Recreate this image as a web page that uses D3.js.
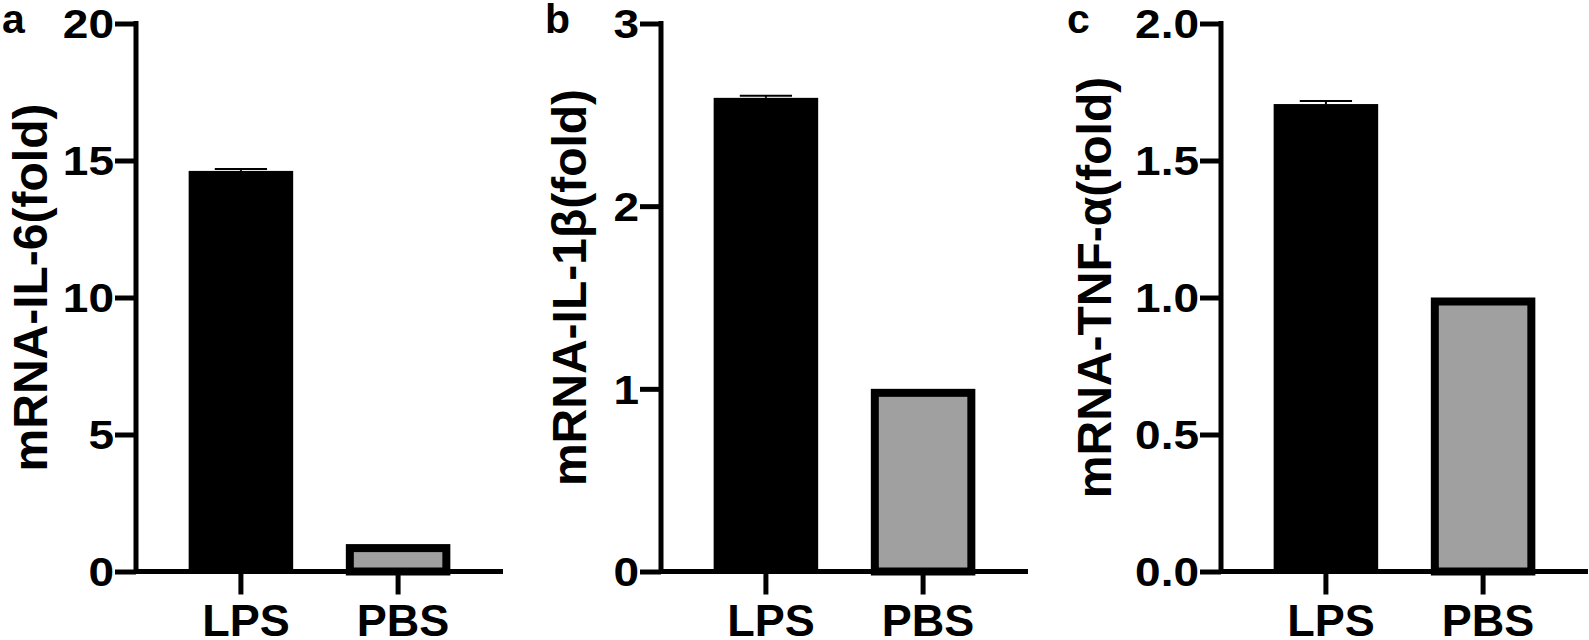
<!DOCTYPE html>
<html lang="en">
<head>
  <meta charset="UTF-8">
  <title>mRNA fold change</title>
  <script src="https://d3js.org/d3.v7.min.js"></script>
  <style>
    body {
      margin: 0;
      background: white;
      font-family: "Liberation Sans", Arial, sans-serif;
    }
    svg text {
      font-weight: bold;
      fill: black;
    }
  </style>
</head>
<body>
  <svg id="chart"></svg>
  <script>
    const width = 1589;
    const height = 640;

    // data
    const categories = ["LPS", "PBS"];

    const il6Values = [14.62, 1.0];
    const il6Errors = [0.07, 0];
    const il6Ticks = [0, 5, 10, 15, 20];

    const il1bValues = [2.593, 1.0];
    const il1bErrors = [0.012, 0];
    const il1bTicks = [0, 1, 2, 3];

    const tnfValues = [1.706, 1.0];
    const tnfErrors = [0.011, 0];
    const tnfTicks = [0, 0.5, 1.0, 1.5, 2.0];

    const barColors = ["#000000", "#a0a0a0"];

    const panels = [
      { letter: "a", label: "mRNA-IL-6(fold)", values: il6Values, errors: il6Errors,
        ticks: il6Ticks, fmt: d3.format("d"), axisX: 136, letterX: 2, labelX: 30 },
      { letter: "b", label: "mRNA-IL-1β(fold)", values: il1bValues, errors: il1bErrors,
        ticks: il1bTicks, fmt: d3.format("d"), axisX: 661, letterX: 545, labelX: 569 },
      { letter: "c", label: "mRNA-TNF-α(fold)", values: tnfValues, errors: tnfErrors,
        ticks: tnfTicks, fmt: d3.format(".1f"), axisX: 1221, letterX: 1067, labelX: 1094 }
    ];

    const plotTop = 23.5, zeroY = 571.5, axisLen = 367;
    const tickLen = 21, lineW = 5, border = 8;

    const svg = d3.select("#chart")
      .attr("width", width)
      .attr("height", height);

    panels.forEach(p => {
      const g = svg.append("g");
      const data = categories.map((c, i) => ({ cat: c, value: p.values[i], err: p.errors[i], color: barColors[i] }));

      const x = d3.scaleBand().domain(categories)
        .range([p.axisX, p.axisX + axisLen]).padding(0.335);
      const y = d3.scaleLinear().domain([0, d3.max(p.ticks)]).range([zeroY, plotTop]);
      const bw = x.bandwidth();

      // bars
      data.forEach(d => {
        if (d.color === "#000000") {
          g.append("rect")
            .attr("x", x(d.cat)).attr("y", y(d.value))
            .attr("width", bw).attr("height", zeroY - y(d.value))
            .attr("fill", d.color);
        } else {
          g.append("rect")
            .attr("x", x(d.cat) + border / 2).attr("y", y(d.value) + border / 2)
            .attr("width", bw - border).attr("height", zeroY - y(d.value) - border / 2)
            .attr("fill", d.color)
            .attr("stroke", "black").attr("stroke-width", border);
        }
        if (d.err > 0) {
          const cx = x(d.cat) + bw / 2;
          g.append("line")
            .attr("x1", cx).attr("x2", cx)
            .attr("y1", y(d.value)).attr("y2", y(d.value + d.err))
            .attr("stroke", "black").attr("stroke-width", 2);
          g.append("line")
            .attr("x1", cx - bw / 4).attr("x2", cx + bw / 4)
            .attr("y1", y(d.value + d.err)).attr("y2", y(d.value + d.err))
            .attr("stroke", "black").attr("stroke-width", 2);
        }
      });

      // y axis
      const yAxis = d3.axisLeft(y).tickValues(p.ticks).tickFormat(p.fmt)
        .tickSize(tickLen).tickPadding(1);
      const ya = g.append("g")
        .attr("transform", `translate(${p.axisX},0)`)
        .call(yAxis);
      ya.select(".domain").remove();
      ya.selectAll(".tick line").attr("stroke", "black").attr("stroke-width", lineW);
      // digits in the figure are set wider than Liberation Sans
      ya.selectAll(".tick text")
        .attr("x", 0)
        .attr("transform", `translate(${-(tickLen + 1)},0) scale(1.15,1)`)
        .attr("font-size", 40)
        .attr("font-family", "'Liberation Sans', Arial, sans-serif")
        .attr("dy", "0.36em");
      g.append("line")
        .attr("x1", p.axisX).attr("x2", p.axisX)
        .attr("y1", plotTop - lineW / 2).attr("y2", zeroY + lineW / 2)
        .attr("stroke", "black").attr("stroke-width", lineW);

      // x axis
      const xAxis = d3.axisBottom(x).tickSize(23).tickPadding(10);
      const xa = g.append("g")
        .attr("transform", `translate(0,${zeroY})`)
        .call(xAxis);
      xa.select(".domain").remove();
      xa.selectAll(".tick line").attr("stroke", "black").attr("stroke-width", lineW);
      xa.selectAll(".tick text")
        .attr("font-size", 45)
        .attr("font-family", "'Liberation Sans', Arial, sans-serif")
        .attr("dx", 5);
      g.append("line")
        .attr("x1", p.axisX).attr("x2", p.axisX + axisLen)
        .attr("y1", zeroY).attr("y2", zeroY)
        .attr("stroke", "black").attr("stroke-width", lineW);

      // y label
      g.append("text")
        .attr("transform", `translate(${p.labelX},${(plotTop + zeroY) / 2 - 10}) rotate(-90)`)
        .attr("text-anchor", "middle")
        .attr("dy", "0.35em")
        .attr("font-size", 48)
        .text(p.label);

      // panel letter
      g.append("text")
        .attr("x", p.letterX).attr("y", 33)
        .attr("font-size", 41)
        .text(p.letter);
    });
  </script>
</body>
</html>
